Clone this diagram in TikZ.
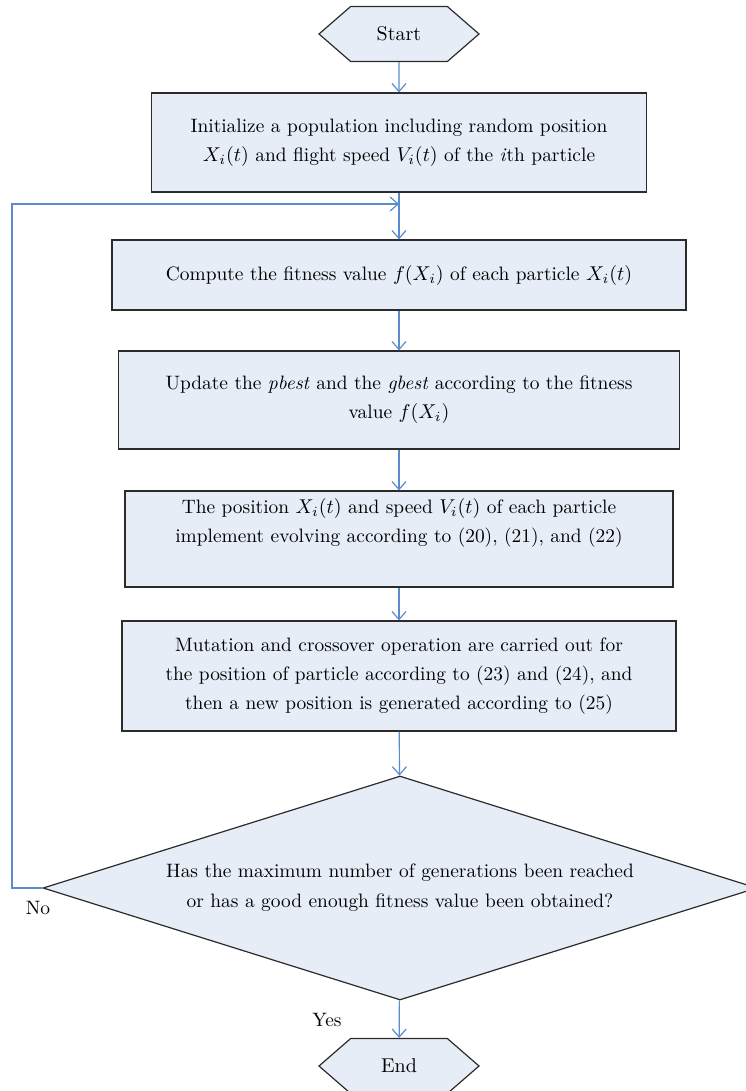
\documentclass[tikz,border=0pt]{standalone}
\usepackage{amsmath}
\usepackage{tikz}
\usetikzlibrary{arrows.meta,positioning,shapes.geometric,shapes.symbols}
\definecolor{boxfill}{HTML}{E6EDF6}
\definecolor{boxline}{HTML}{2B2B2B}
\definecolor{flowblue}{HTML}{5B8BCF}
\tikzset{
  proc/.style={draw=boxline, fill=boxfill, line width=0.6pt, align=center,
    font=\fontsize{9.7}{14.5}\selectfont, inner sep=2pt},
  term/.style={signal, signal to=east and west, signal pointer angle=82,
    draw=boxline, fill=boxfill, line width=0.6pt, minimum width=80pt,
    minimum height=27.5pt, inner sep=0pt, font=\fontsize{10}{14.5}\selectfont},
  decide/.style={diamond, aspect=3.19, draw=boxline, fill=boxfill, line width=0.6pt,
    minimum width=357pt, minimum height=112pt, inner sep=0pt, align=center,
    font=\fontsize{9.7}{15}\selectfont},
  flow/.style={-{Straight Barb[length=4pt,width=7pt]}, line width=0.6pt, color=flowblue},
  lbl/.style={font=\fontsize{9.7}{14.5}\selectfont},
}
\begin{document}
\begin{tikzpicture}[x=0.5pt,y=-0.5pt]
  \useasboundingbox (0,0) rectangle (745,1091);
  % the steps, top to bottom
  \node[term] (start) at (399,34) {Start};
  \node[proc, minimum width=247.5pt, minimum height=49.5pt] (init) at (399,142.5)
    {Initialize a population including random position\\
     $X_i(t)$ and flight speed $V_i(t)$ of the \emph{i}th particle};
  \node[proc, minimum width=287pt, minimum height=35pt] (fitness) at (399,275)
    {Compute the fitness value $f(X_i)$ of each particle $X_i(t)$};
  \node[proc, minimum width=280.5pt, minimum height=49pt] (update) at (399,400)
    {Update the \emph{pbest} and the \emph{gbest} according to the fitness\\
     value $f(X_i)$};
  \node[proc, minimum width=274pt, minimum height=48pt] (evolve) at (399,539)
    {The position $X_i(t)$ and speed $V_i(t)$ of each particle\\
     implement evolving according to (20), (21), and (22)\\[4pt]};
  \node[proc, minimum width=277pt, minimum height=55pt] (mutate) at (399,676)
    {Mutation and crossover operation are carried out for\\
     the position of particle according to (23) and (24), and\\
     then a new position is generated according to (25)};
  \node[decide] (check) at (400,888)
    {Has the maximum number of generations been reached\\
     or has a good enough fitness value been obtained?};
  \node[term] (stop) at (399,1066) {End};
  \coordinate (loop) at (12,204);
  \coordinate (join) at (399,204);
  % connectors
  \draw[flow] (start) -- (init);
  \draw[flow] (init) -- (fitness);
  \draw[flow] (fitness) -- (update);
  \draw[flow] (update) -- (evolve);
  \draw[flow] (evolve) -- (mutate);
  \draw[flow] (mutate) -- (check);
  \draw[flow] (check) -- (stop);
  \draw[flow] (check.west) -| (loop) -- (join);
  \node[lbl] (no) at (38,908) {No};
  \node[lbl] (yes) at (327,1020) {Yes};
\end{tikzpicture}
\end{document}
